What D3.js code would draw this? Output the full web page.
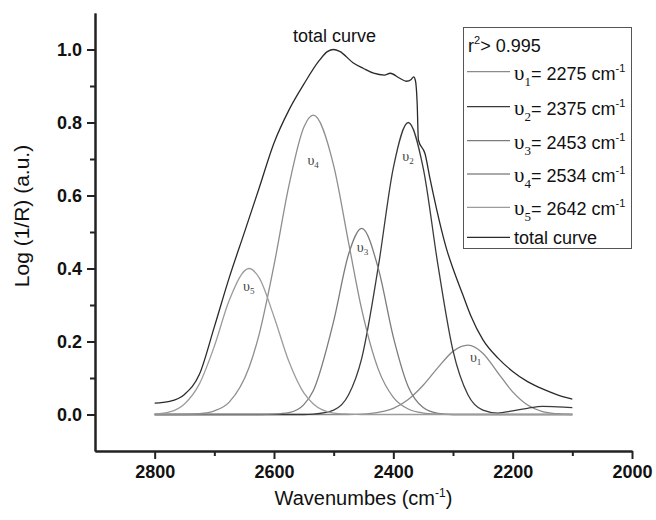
<!DOCTYPE html>
<html>
<head>
<meta charset="utf-8">
<script src="https://cdn.jsdelivr.net/npm/d3@7"></script>
<style>
body { margin: 0; background: #fff; }
svg { font-family: Arial, "Liberation Sans", Helvetica, sans-serif; }
</style>
</head>
<body>
<div id="chart"></div>
<script>
// data
var wavenumber = [2800, 2775, 2750, 2725, 2700, 2675, 2642, 2625, 2600, 2575, 2550, 2534, 2500, 2475, 2453,
  2425, 2400, 2375, 2350, 2325, 2300, 2275, 2250, 2225, 2200, 2175, 2150, 2125, 2100];
var nu1 = [0, 0, 0, 0, 0, 0, 0, 0, 0, 0, 0, 0, 0, 0, 0.001,
  0.006, 0.017, 0.041, 0.080, 0.129, 0.173, 0.190, 0.168, 0.115, 0.062, 0.026, 0.008, 0.002, 0];
var nu2 = [0, 0, 0, 0, 0, 0, 0, 0, 0, 0, 0, 0.001, 0.012, 0.054, 0.154,
  0.407, 0.676, 0.800, 0.676, 0.407, 0.175, 0.054, 0.012, 0.004, 0.010, 0.017, 0.022, 0.021, 0.019];
var nu3 = [0, 0, 0, 0, 0, 0, 0, 0, 0.001, 0.005, 0.027, 0.066, 0.256, 0.439, 0.510,
  0.399, 0.212, 0.076, 0.019, 0.003, 0, 0, 0, 0, 0, 0, 0, 0, 0];
var nu4 = [0, 0, 0, 0.002, 0.010, 0.034, 0.128, 0.219, 0.409, 0.627, 0.787, 0.820, 0.682, 0.471, 0.288,
  0.123, 0.047, 0.015, 0.004, 0.001, 0, 0, 0, 0, 0, 0, 0, 0, 0];
var nu5 = [0.001, 0.007, 0.029, 0.084, 0.187, 0.313, 0.400, 0.375, 0.268, 0.145, 0.059, 0.029, 0.004, 0.001, 0,
  0, 0, 0, 0, 0, 0, 0, 0, 0, 0, 0, 0, 0, 0];

var totalWn = [2800, 2775, 2750, 2725, 2700, 2675, 2650, 2625, 2600, 2575, 2550, 2525, 2510, 2500, 2490,
  2467, 2450, 2433, 2415, 2405, 2390, 2378, 2370, 2366, 2363, 2360, 2358, 2347, 2338, 2319,
  2310, 2300, 2284, 2270, 2250, 2225, 2200, 2175, 2150, 2125, 2100];
var totalVal = [0.031, 0.036, 0.055, 0.110, 0.240, 0.375, 0.497, 0.620, 0.744, 0.834, 0.905, 0.968, 0.995, 1.000, 0.995,
  0.963, 0.948, 0.935, 0.930, 0.935, 0.922, 0.913, 0.918, 0.925, 0.915, 0.850, 0.752, 0.715, 0.642, 0.504,
  0.449, 0.400, 0.330, 0.270, 0.205, 0.155, 0.118, 0.090, 0.070, 0.054, 0.042];

var peakIndex = ["1", "2", "3", "4", "5"];
var peakCenter = [2275, 2375, 2453, 2534, 2642];
var peakHeight = [0.19, 0.80, 0.51, 0.82, 0.40];
var legendValue = ["2275", "2375", "2453", "2534", "2642"];
var xTicks = [2800, 2600, 2400, 2200, 2000];
var xMinor = [2700, 2500, 2300, 2100];
var yTicks = [0.0, 0.2, 0.4, 0.6, 0.8, 1.0];
var yMinor = [0.1, 0.3, 0.5, 0.7, 0.9];

var svgWidth = 656;
var svgHeight = 520;
var margin = {top: 13, right: 24, bottom: 69, left: 95};
var width = svgWidth - margin.left - margin.right;
var height = svgHeight - margin.top - margin.bottom;

var svg = d3.select("#chart").append("svg")
  .attr("width", svgWidth)
  .attr("height", svgHeight);

var chartGroup = svg.append("g")
  .attr("transform", `translate(${margin.left}, ${margin.top})`);

var xScale = d3.scaleLinear().domain([2900, 2000]).range([0, width]);
var yScale = d3.scaleLinear().domain([-0.1, 1.1]).range([height, 0]);

// curves
var colors = ["#8a8a8a", "#3a3a3a", "#7c7c7c", "#8e8e8e", "#9c9c9c"];
var comps = [nu1, nu2, nu3, nu4, nu5];

var compLine = d3.line()
  .x((d, i) => xScale(wavenumber[i]))
  .y(d => yScale(d))
  .curve(d3.curveMonotoneX);

comps.forEach(function(vals, k) {
  chartGroup.append("path")
    .datum(vals)
    .attr("d", compLine)
    .attr("fill", "none")
    .attr("stroke", colors[k])
    .attr("stroke-width", 1.3);
});

var totalLine = d3.line()
  .x((d, i) => xScale(totalWn[i]))
  .y(d => yScale(d))
  .curve(d3.curveMonotoneX);

chartGroup.append("path")
  .datum(totalVal)
  .attr("d", totalLine)
  .attr("fill", "none")
  .attr("stroke", "#2a2a2a")
  .attr("stroke-width", 1.3);

// peak labels
var labelOffset = [[2, 17], [-6, 38], [-5, 24], [-6, 50], [-6, 22]];
peakIndex.forEach(function(p, k) {
  var t = chartGroup.append("text")
    .attr("x", xScale(peakCenter[k]) + labelOffset[k][0])
    .attr("y", yScale(peakHeight[k]) + labelOffset[k][1])
    .attr("fill", "#444")
    .style("font-family", "'Liberation Serif', 'DejaVu Serif', serif");
  t.append("tspan").style("font-size", "14px").text("\u03c5");
  t.append("tspan").style("font-size", "9px").attr("dy", 3).text(p);
});

chartGroup.append("text")
  .attr("x", 293 - margin.left)
  .attr("y", 42 - margin.top)
  .style("font-size", "18px")
  .attr("fill", "#111")
  .text("total curve");

// axes
var bottomAxis = d3.axisBottom(xScale).tickValues(xTicks).tickSize(8).tickSizeOuter(0)
  .tickPadding(6).tickFormat(d3.format("d"));
var bottomMinor = d3.axisBottom(xScale).tickValues(xMinor).tickSize(5).tickSizeOuter(0).tickFormat("");
var leftAxis = d3.axisLeft(yScale).tickValues(yTicks).tickSize(8).tickSizeOuter(0)
  .tickPadding(5).tickFormat(d3.format(".1f"));
var leftMinor = d3.axisLeft(yScale).tickValues(yMinor).tickSize(5).tickSizeOuter(0).tickFormat("");

chartGroup.append("g").attr("transform", `translate(0, ${height})`).call(bottomAxis);
chartGroup.append("g").attr("transform", `translate(0, ${height})`).call(bottomMinor);
chartGroup.append("g").call(leftAxis);
chartGroup.append("g").call(leftMinor);

chartGroup.selectAll(".domain").attr("stroke", "#222").attr("stroke-width", 2);
chartGroup.selectAll(".tick line").attr("stroke", "#222").attr("stroke-width", 2);
chartGroup.selectAll(".tick text")
  .attr("fill", "#111")
  .style("font-size", "18px")
  .style("font-weight", "bold")
  .style("font-family", "Arial, 'Liberation Sans', sans-serif");

// axis titles
var xt = svg.append("text")
  .attr("x", margin.left + width / 2)
  .attr("y", 505)
  .attr("text-anchor", "middle")
  .attr("fill", "#111")
  .style("font-size", "20px");
xt.append("tspan").text("Wavenumbes (cm");
xt.append("tspan").style("font-size", "12px").attr("dy", -8).text("-1");
xt.append("tspan").attr("dy", 8).text(")");

svg.append("text")
  .attr("transform", "translate(29, 216) rotate(-90)")
  .attr("text-anchor", "middle")
  .attr("fill", "#111")
  .style("font-size", "21px")
  .text("Log (1/R) (a.u.)");

// legend
var legend = svg.append("g");
legend.append("rect")
  .attr("x", 463.5).attr("y", 27.5)
  .attr("width", 168).attr("height", 221)
  .attr("fill", "#fff")
  .attr("stroke", "#555")
  .attr("stroke-width", 1);

var r2 = legend.append("text").attr("x", 468).attr("y", 52).attr("fill", "#111").style("font-size", "18px");
r2.append("tspan").text("r");
r2.append("tspan").style("font-size", "11px").attr("dy", -8).text("2");
r2.append("tspan").attr("dy", 8).text("> 0.995");

var rowY = [71.7, 106.7, 140.7, 174, 207.3];
peakIndex.forEach(function(p, k) {
  legend.append("line")
    .attr("x1", 467).attr("x2", 510)
    .attr("y1", rowY[k]).attr("y2", rowY[k])
    .attr("stroke", colors[k]).attr("stroke-width", 1.3);
  var t = legend.append("text").attr("x", 514).attr("y", rowY[k] + 8).attr("fill", "#111");
  t.append("tspan").style("font-family", "'Liberation Serif', 'DejaVu Serif', serif")
    .style("font-size", "21px").text("\u03c5");
  t.append("tspan").style("font-family", "'Liberation Serif', 'DejaVu Serif', serif")
    .style("font-size", "13px").attr("dy", 6).text(p);
  t.append("tspan").style("font-size", "18px").attr("dy", -6).text("= " + legendValue[k] + " cm");
  t.append("tspan").style("font-size", "11px").attr("dy", -8).text("-1");
});

legend.append("line")
  .attr("x1", 467).attr("x2", 510)
  .attr("y1", 237.3).attr("y2", 237.3)
  .attr("stroke", "#2a2a2a").attr("stroke-width", 1.3);
legend.append("text").attr("x", 514).attr("y", 244).attr("fill", "#111")
  .style("font-size", "18px").text("total curve");
</script>
</body>
</html>
